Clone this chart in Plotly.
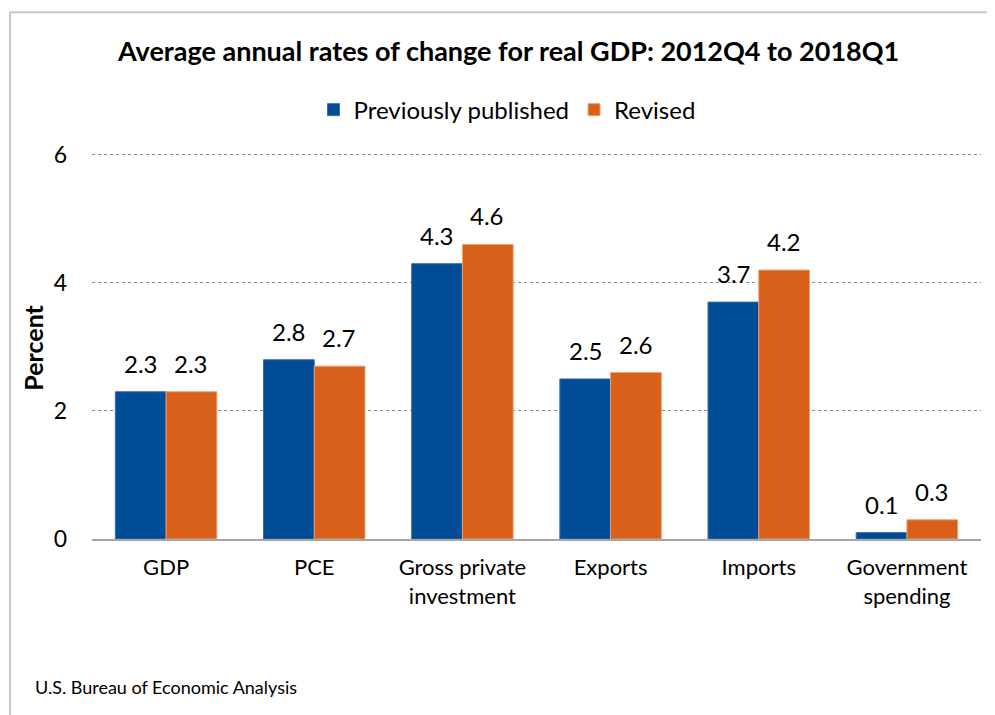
import plotly.graph_objects as go

categories = ["GDP", "PCE", "Gross private<br>investment", "Exports", "Imports", "Government<br>spending"]
previously_published = [2.3, 2.8, 4.3, 2.5, 3.7, 0.1]
revised = [2.3, 2.7, 4.6, 2.6, 4.2, 0.3]
y_ticks = [0, 2, 4, 6]

FONT = "Lato"
OFF = 8  # page body margin
W, H = 995 - OFF, 715 - OFF
YMAX = 6.06
L, R, T, B = 92 - OFF, 14, 151 - OFF, 715 - 539.5

BLUE = "#004C97"
ORANGE = "#D9601A"

fig = go.Figure()
fig.add_trace(go.Bar(
    name="Previously published", x=categories, y=previously_published,
    marker=dict(color=BLUE, line=dict(color="#3a6fb0", width=1)),
))
fig.add_trace(go.Bar(
    name="Revised", x=categories, y=revised,
    marker=dict(color=ORANGE, line=dict(color="#f0a070", width=1)),
))

pw = W - L - R
ph = H - T - B
def px(x):
    return (x - OFF - L) / pw
def py(y):
    return (H - B - (y - OFF)) / ph

annotations = []
for series, shift in ((previously_published, -25), (revised, 25)):
    for c, v in zip(categories, series):
        annotations.append(dict(x=c, y=v, xref="x", yref="y", text=f"{v:.1f}",
                                showarrow=False, xshift=shift, yshift=12,
                                yanchor="bottom", xanchor="center",
                                font=dict(size=24, family=FONT, color="#000000")))

annotations += [
    dict(text="<b>Average annual rates of change for real GDP: 2012Q4 to 2018Q1</b>",
         xref="paper", yref="paper", x=px(507.5), y=py(50), xanchor="center", yanchor="middle",
         showarrow=False, font=dict(size=27, family=FONT)),
    dict(text="<b>Percent</b>", textangle=-90,
         xref="paper", yref="paper", x=px(33), y=py(348), xanchor="center", yanchor="middle",
         showarrow=False, font=dict(size=25, family=FONT)),
    dict(text="U.S. Bureau of Economic Analysis",
         xref="paper", yref="paper", x=px(33), y=py(688), xanchor="left", yanchor="middle",
         showarrow=False, font=dict(size=18, family=FONT)),
]

fig.update_layout(
    width=W, height=H,
    margin=dict(l=L, r=R, t=T, b=B),
    paper_bgcolor="white", plot_bgcolor="white",
    font=dict(family=FONT, color="#000000", size=18),
    barmode="group", bargap=0.315, bargroupgap=0,
    showlegend=True,
    legend=dict(orientation="h", x=px(507), xanchor="center", y=py(110), yanchor="middle",
                font=dict(size=24, family=FONT), traceorder="normal",
                bgcolor="rgba(0,0,0,0)"),
    xaxis=dict(showgrid=False, showline=True, linecolor="#A6A6A6", linewidth=2,
               ticks="", tickfont=dict(size=22, family=FONT), ticklabelstandoff=8,
               fixedrange=True),
    yaxis=dict(range=[0, YMAX], tickvals=y_ticks, showgrid=True, gridcolor="#8c8c8c",
               griddash="dot", gridwidth=1, zeroline=False, showline=False,
               tickfont=dict(size=23, family=FONT), ticklabelstandoff=24, fixedrange=True),
    annotations=annotations,
    shapes=[
        dict(type="line", xref="paper", yref="paper", x0=px(10), x1=px(1005), y0=py(12), y1=py(12),
             line=dict(color="#C8C8C8", width=2)),
        dict(type="line", xref="paper", yref="paper", x0=px(10), x1=px(10), y0=py(12), y1=py(725),
             line=dict(color="#C8C8C8", width=2)),
    ],
)

fig.write_html("out.html")
